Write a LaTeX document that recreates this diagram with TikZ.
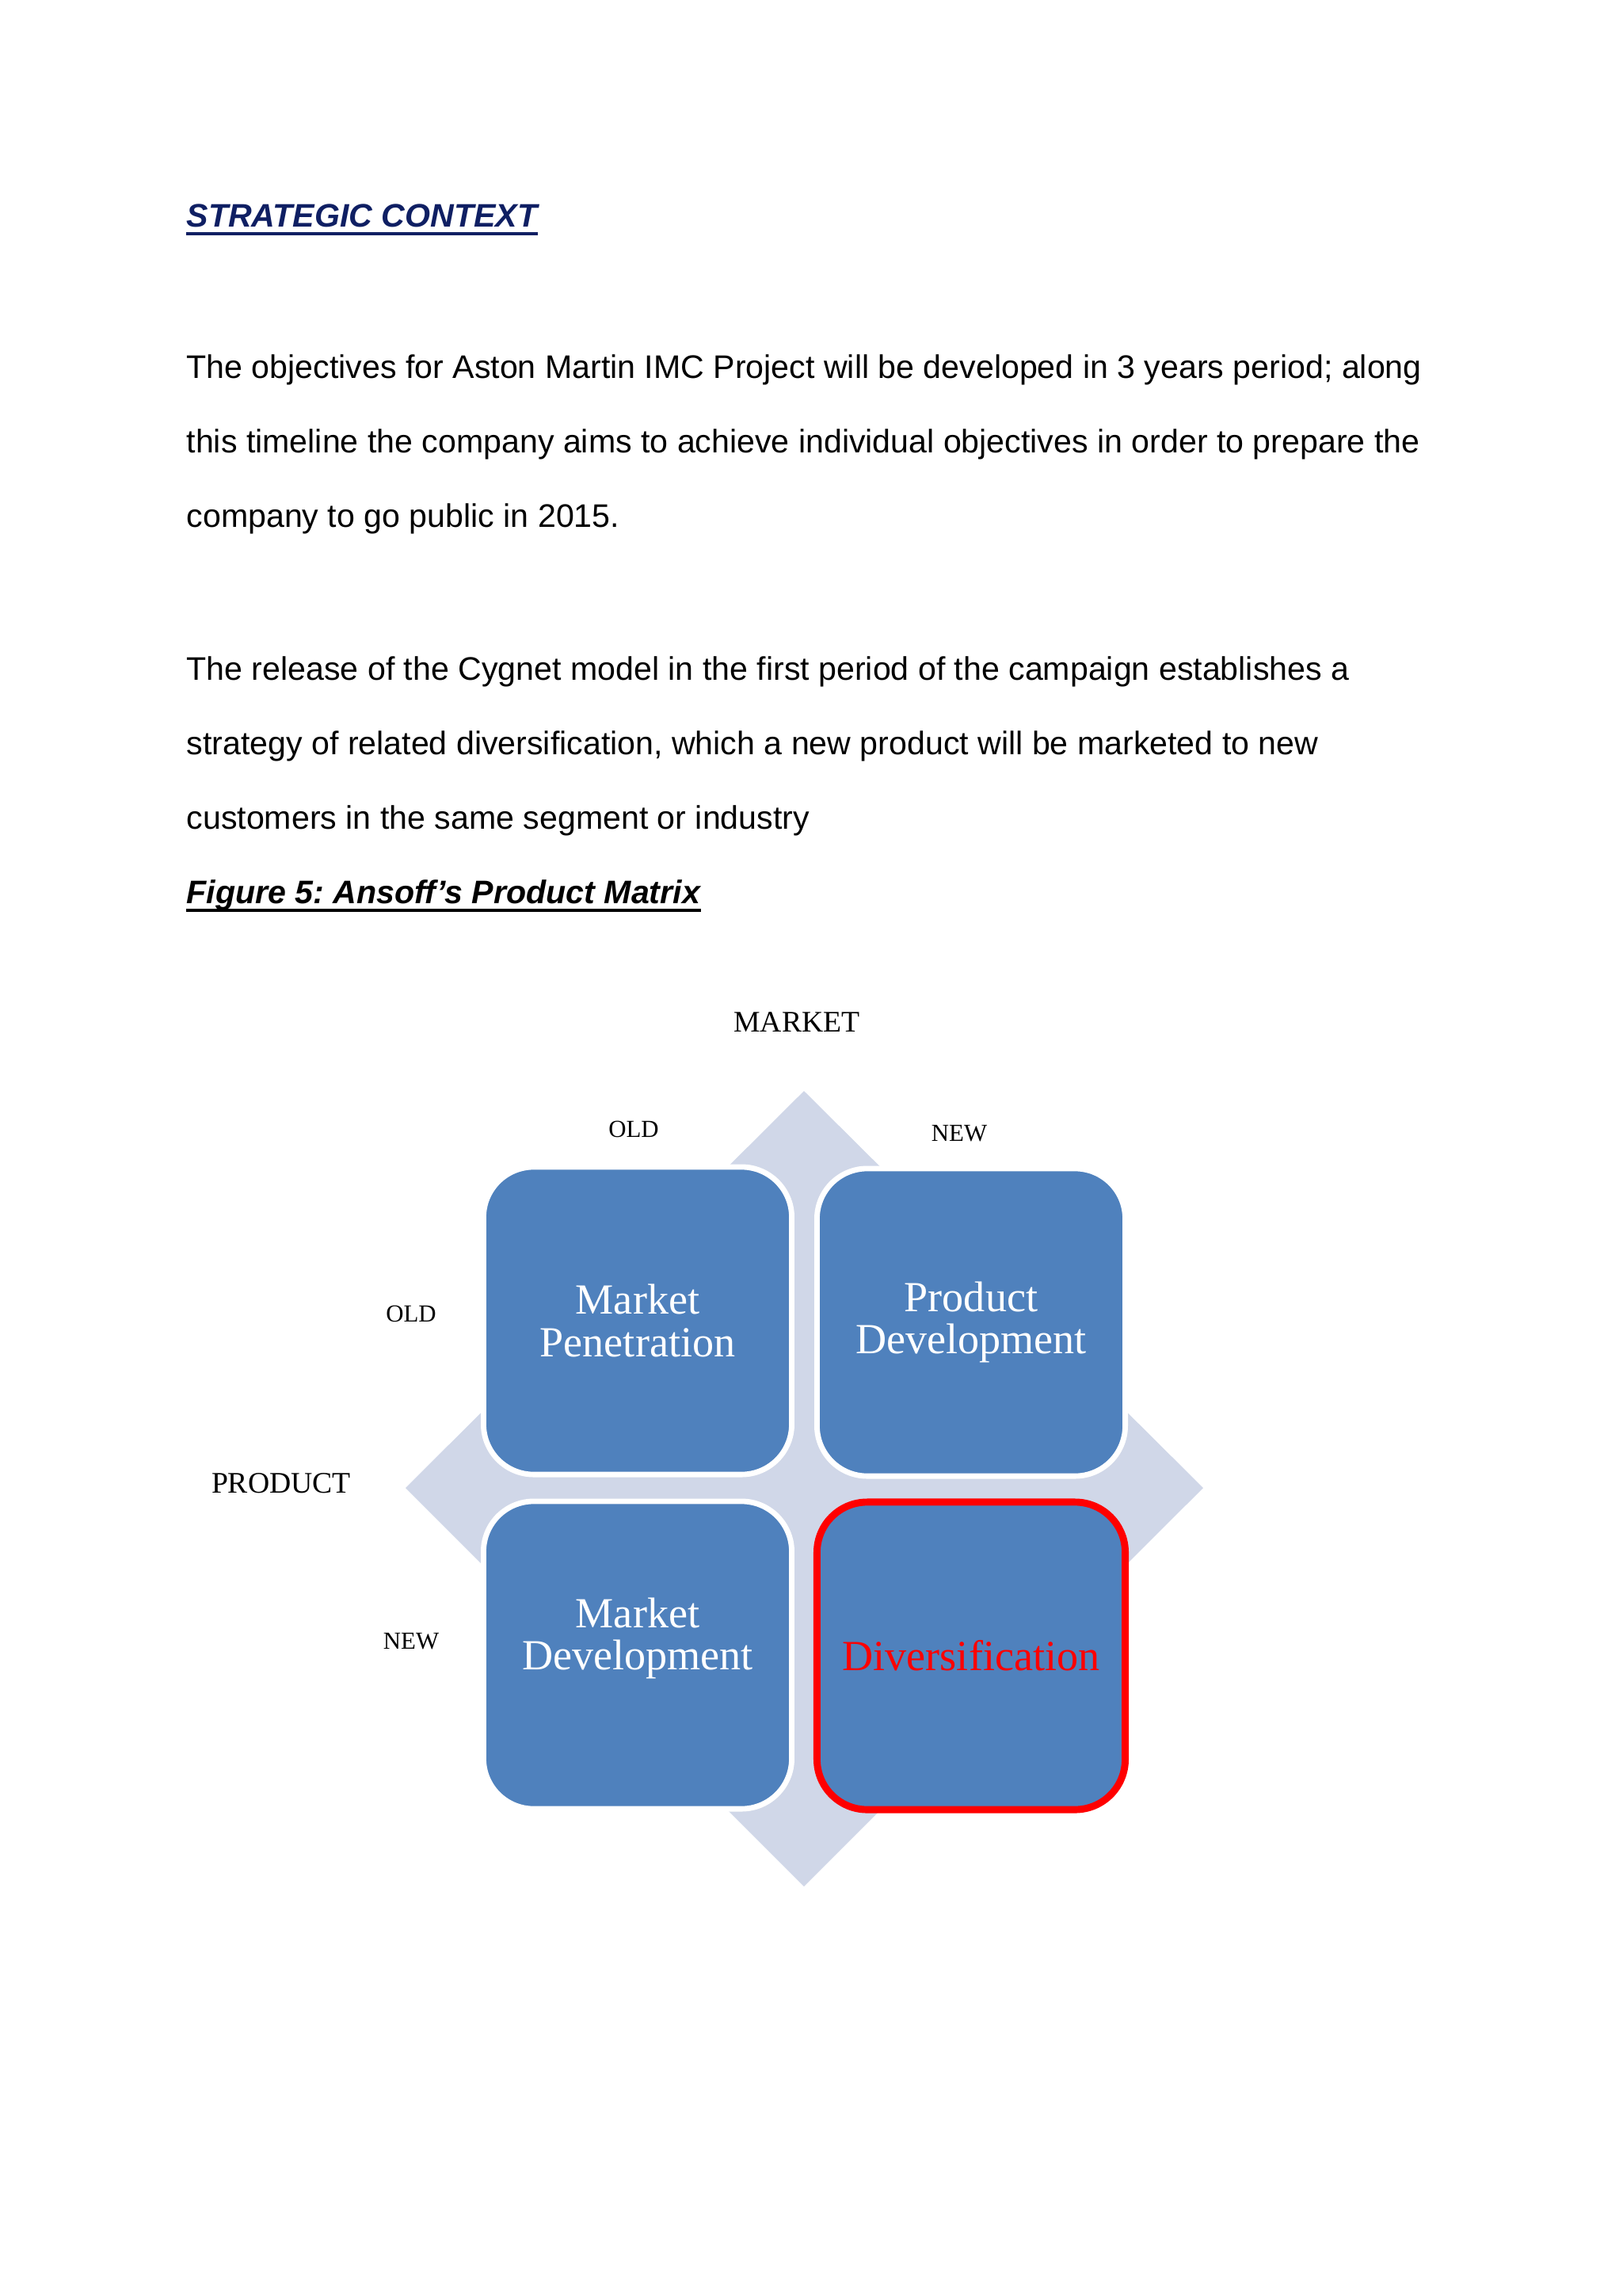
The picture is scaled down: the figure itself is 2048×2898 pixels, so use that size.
\documentclass[tikz,border=0pt]{standalone}
\usepackage{fontspec}
\setmainfont{Liberation Sans}
\newfontfamily\matrixfont{Liberation Serif}
\usetikzlibrary{positioning, calc}
\frenchspacing
\definecolor{navyTitle}{HTML}{0F1F63}
\definecolor{cellBlue}{HTML}{4F81BD}
\definecolor{diamondGrey}{HTML}{D0D7E8}
\definecolor{hiRed}{HTML}{FF0000}
\tikzset{
  body/.style={anchor=base west, inner sep=0pt, font=\fontsize{12}{14}\selectfont},
  head/.style={body, font=\fontsize{12}{14}\selectfont\bfseries\itshape},
  uline/.style={line width=1.1pt},
  axislbl/.style={inner sep=0pt, font=\matrixfont\fontsize{11}{13}\selectfont},
  ticklbl/.style={inner sep=0pt, font=\matrixfont\fontsize{9}{11}\selectfont},
  cell/.style={draw=white, line width=2pt, fill=cellBlue, rounded corners=6.5mm,
               minimum width=3.99cm, minimum height=3.98cm, align=center, text=white,
               font=\matrixfont\fontsize{15.8}{15.7}\selectfont},
  cellHi/.style={cell, draw=hiRed, line width=2.6pt, text=hiRed},
}

\begin{document}
\begin{tikzpicture}[x=0.010254cm, y=-0.010254cm]
  \useasboundingbox (0,0) rectangle (2048,2898);
  % heading and text
  \node[head, text=navyTitle] (title) at (235,286) {STRATEGIC CONTEXT};
  \draw[uline, navyTitle] ([yshift=-2.6pt]title.base west) -- ([yshift=-2.6pt]title.base east);
  \node[body] (p1a) at (235,477) {The objectives for Aston Martin IMC Project will be developed in 3 years period; along};
  \node[body] (p1b) at (235,571) {this timeline the company aims to achieve individual objectives in order to prepare the};
  \node[body] (p1c) at (235,665) {company to go public in 2015.};
  \node[body] (p2a) at (235,858) {The release of the Cygnet model in the first period of the campaign establishes a};
  \node[body] (p2b) at (235,952) {strategy of related diversification, which a new product will be marketed to new};
  \node[body] (p2c) at (235,1046) {customers in the same segment or industry};
  \node[head] (caption) at (235,1140) {Figure 5: Ansoff’s Product Matrix};
  \draw[uline] ([yshift=-2.6pt]caption.base west) -- ([yshift=-2.6pt]caption.base east);
  % ansoff matrix
  \fill[diamondGrey] (1015,1377) -- (1519,1878) -- (1015,2381) -- (512,1878) -- cycle;
  \node[cell] (pen) at (805,1667) {Market\\Penetration};
  \node[cell] (prod) at (1226,1669) {Product\\Development};
  \node[cell] (mdev) at (805,2089) {Market\\Development\\\mbox{}};
  \node[cellHi] (div) at (1226,2090) {Diversification};
  \node[axislbl] (market) at (1006,1290) {MARKET};
  \node[axislbl] (product) at (355,1872) {PRODUCT};
  \node[ticklbl] (mold) at (800,1425) {OLD};
  \node[ticklbl] (mnew) at (1211,1431) {NEW};
  \node[ticklbl] (pold) at (519,1658) {OLD};
  \node[ticklbl] (pnew) at (519,2072) {NEW};
\end{tikzpicture}
\end{document}
